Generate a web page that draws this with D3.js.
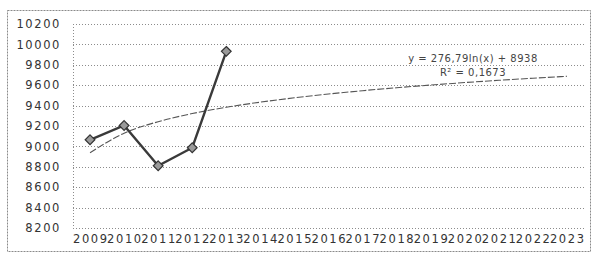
<!DOCTYPE html>
<html>
<head>
<meta charset="utf-8">
<script src="https://cdn.jsdelivr.net/npm/d3@7"></script>
<style>
  body { margin: 0; background: #fff; }
  .axis text { font-family: "DejaVu Sans", sans-serif; font-size: 11.5px; fill: #333; letter-spacing: 1.6px; }
</style>
</head>
<body>
<div id="chart"></div>
<script>
const years = ['2009', '2010', '2011', '2012', '2013', '2014', '2015', '2016', '2017', '2018', '2019', '2020', '2021', '2022', '2023'];
const values = [9065, 9205, 8810, 8987, 9932];
const yTicks = [8200, 8400, 8600, 8800, 9000, 9200, 9400, 9600, 9800, 10000, 10200];
const trendA = 276.79;
const trendB = 8938;
const equationLines = ['y = 276,79ln(x) + 8938', 'R² = 0,1673'];

const dimensions = {
  width: 592,
  height: 253,
  margin: { top: 24, bottom: 25, left: 73, right: 8 },
};
dimensions.containerWidth = dimensions.width - dimensions.margin.left - dimensions.margin.right;
dimensions.containerHeight = dimensions.height - dimensions.margin.top - dimensions.margin.bottom;

const svg = d3.select('#chart').append('svg').attr('width', dimensions.width).attr('height', dimensions.height);

// outer chart border
svg.append('rect')
  .attr('x', 7.5).attr('y', 10.5)
  .attr('width', dimensions.width - 9).attr('height', dimensions.height - 12)
  .attr('fill', 'none').attr('stroke', '#8a8a8a').attr('stroke-dasharray', '2,1');

const container = svg.append('g').attr('transform', `translate(${dimensions.margin.left}, ${dimensions.margin.top})`);

const xScale = d3.scaleBand().domain(years).range([0, dimensions.containerWidth]);
const yScale = d3.scaleLinear().domain([8200, 10200]).range([dimensions.containerHeight, 0]);

// gridlines
container.append('g')
  .selectAll('line')
  .data(yTicks)
  .join('line')
  .attr('x1', 0).attr('x2', dimensions.containerWidth)
  .attr('y1', (d) => Math.round(yScale(d)) + 0.5).attr('y2', (d) => Math.round(yScale(d)) + 0.5)
  .attr('stroke', '#8c8c8c').attr('stroke-dasharray', '1,2');

container.append('line')
  .attr('x1', 0.5).attr('x2', 0.5).attr('y1', 0).attr('y2', dimensions.containerHeight)
  .attr('stroke', '#8c8c8c').attr('stroke-dasharray', '1,2');

const yAxis = d3.axisLeft(yScale).tickValues(yTicks).tickSize(0).tickPadding(12).tickFormat(d3.format('d'));
container.append('g').classed('axis', true).call(yAxis).call((g) => g.select('.domain').remove());

const xAxis = d3.axisBottom(xScale).tickSize(0).tickPadding(7);
container.append('g').classed('axis', true)
  .attr('transform', `translate(0, ${dimensions.containerHeight})`)
  .call(xAxis).call((g) => g.select('.domain').remove())
  .selectAll('text').attr('dx', 0.8);

// logarithmic trendline
const trendData = years.map((d, i) => ({ year: d, v: trendA * Math.log(i + 1) + trendB }));
const trendLine = d3.line()
  .x((d) => xScale(d.year) + xScale.bandwidth() / 2)
  .y((d) => yScale(d.v))
  .curve(d3.curveMonotoneX);
container.append('path')
  .datum(trendData)
  .attr('d', trendLine)
  .attr('fill', 'none').attr('stroke', '#555').attr('stroke-width', 1.1).attr('stroke-dasharray', '7,2');

// series
const seriesData = values.map((v, i) => ({ year: years[i], v }));
const line = d3.line()
  .x((d) => xScale(d.year) + xScale.bandwidth() / 2)
  .y((d) => yScale(d.v));
container.append('path')
  .datum(seriesData)
  .attr('d', line)
  .attr('fill', 'none').attr('stroke', '#3a3a3a').attr('stroke-width', 2.4);

container.selectAll('.marker')
  .data(seriesData)
  .join('path')
  .attr('class', 'marker')
  .attr('transform', (d) => `translate(${xScale(d.year) + xScale.bandwidth() / 2}, ${yScale(d.v)})`)
  .attr('d', d3.symbol(d3.symbolDiamond2, 60))
  .attr('fill', '#9a9a9a').attr('stroke', '#333').attr('stroke-width', 1.2);

// trendline label
svg.append('g')
  .selectAll('text')
  .data(equationLines)
  .join('text')
  .attr('x', 473)
  .attr('y', (d, i) => 62 + i * 14)
  .attr('text-anchor', 'middle')
  .attr('font-family', 'DejaVu Sans, sans-serif')
  .attr('font-size', 10)
  .attr('letter-spacing', 0.5)
  .attr('fill', '#444')
  .text((d) => d);
</script>
</body>
</html>
